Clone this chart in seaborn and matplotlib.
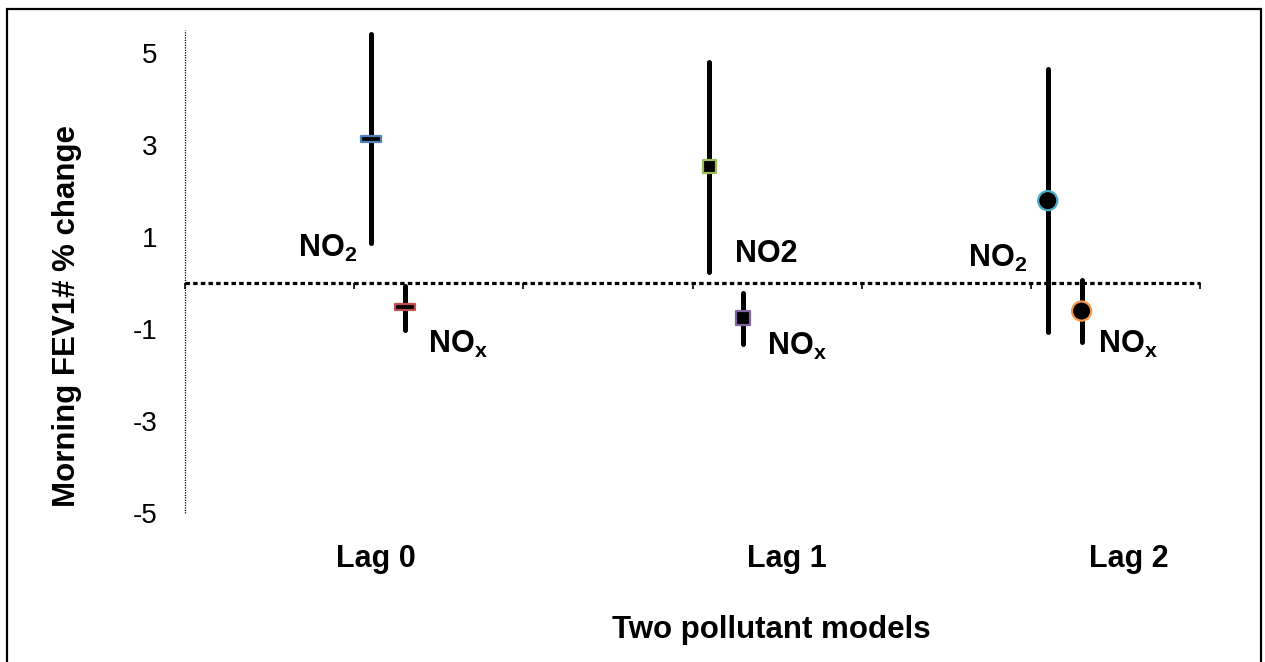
#importing libraries and modules
import numpy as np
import pandas as pd
import seaborn as sns
import matplotlib.pyplot as plt
from matplotlib.path import Path
from matplotlib.patches import Rectangle

#data
lags = ["Lag 0", "Lag 1", "Lag 2"]
lag_x = [1.13, 3.56, 5.58]
point_names = ["NO2 lag0", "NOx lag0", "NO2 lag1", "NOx lag1", "NO2 lag2", "NOx lag2"]
x_pos = [1.1, 1.3, 3.1, 3.3, 5.1, 5.3]
estimate = [3.12, -0.53, 2.53, -0.76, 1.79, -0.61]
ci_low = [0.87, -1.03, 0.24, -1.33, -1.07, -1.29]
ci_high = [5.41, -0.07, 4.80, -0.22, 4.65, 0.07]
marker_kind = ["dash", "dash", "square", "square", "circle", "circle"]
edge_colours = ["#4F81BD", "#C0504D", "#9BBB59", "#8064A2", "#4BACC6", "#F79646"]
point_labels = [r"NO$_\mathbf{2}$", r"NO$_\mathbf{x}$", "NO2",
                r"NO$_\mathbf{x}$", r"NO$_\mathbf{2}$", r"NO$_\mathbf{x}$"]
label_pos = [(0.668, 0.57), (1.436, -1.53), (3.25, 0.46),
             (3.44, -1.57), (4.63, 0.35), (5.40, -1.53)]
y_ticks = [-5, -3, -1, 1, 3, 5]

df = pd.DataFrame({"name": point_names, "x": x_pos, "est": estimate,
                   "lo": ci_low, "hi": ci_high, "kind": marker_kind})

#style and fonts
sns.set_style("white")
plt.rcParams['font.family'] = ['Liberation Sans', 'DejaVu Sans']
plt.rcParams['text.color'] = 'black'
plt.rcParams['ytick.color'] = 'black'
plt.rcParams['mathtext.fontset'] = 'custom'
plt.rcParams['mathtext.rm'] = 'Liberation Sans:bold'
plt.rcParams['mathtext.bf'] = 'Liberation Sans:bold'

fig = plt.figure(figsize=(12.65, 6.62), dpi=100)
ax = fig.add_axes([185/1265, 1-513/662, 1015/1265, 483/662])

#confidence interval lines
lc = ax.vlines(df["x"], df["lo"], df["hi"], color="black", linewidth=3.6)
lc.set_capstyle("round")

#markers
dash = Path([(-1, -0.3), (1, -0.3), (1, 0.3), (-1, 0.3), (-1, -0.3)],
            [Path.MOVETO, Path.LINETO, Path.LINETO, Path.LINETO, Path.CLOSEPOLY])
sc = sns.scatterplot(data=df, x="x", y="est", style="kind", size="kind",
                     markers={"dash": dash, "square": "s", "circle": "o"},
                     sizes={"dash": 210, "square": 95, "circle": 190},
                     color="black", linewidth=1.6, legend=False, zorder=3, ax=ax)
coll = ax.collections[-1]
coll.set_edgecolors(edge_colours)
coll.set_facecolors("black")

#point labels
for txt, (lx, ly) in zip(point_labels, label_pos):
    ax.text(lx, ly, txt, fontsize=22, fontweight="bold", ha="left", va="baseline")

#lag labels
for lab, lx in zip(lags, lag_x):
    ax.text(lx, -6.17, lab, fontsize=22, fontweight="bold", ha="center",
            va="baseline", clip_on=False)

#axes
ax.set_xlim(0, 6)
ax.set_ylim(-5, 5.5)
ax.set_yticks(y_ticks)
ax.set_yticklabels([str(t) for t in y_ticks], fontsize=20, color="black")
ax.tick_params(axis="y", left=False, length=0, pad=20)
ax.set_xticks(range(7))
ax.set_xticklabels([])
ax.tick_params(axis="x", bottom=True, length=4, width=1.2, direction="out", color="black")
for s in ["top", "right"]:
    ax.spines[s].set_visible(False)
ax.spines["left"].set_linestyle((0, (1, 1)))
ax.spines["left"].set_linewidth(0.9)
ax.spines["left"].set_color("black")
ax.spines["left"].set_capstyle("butt")
ax.spines["bottom"].set_position(("data", 0))
ax.spines["bottom"].set_linestyle((0, (1.4, 1)))
ax.spines["bottom"].set_linewidth(2.3)
ax.spines["bottom"].set_color("black")
ax.spines["bottom"].set_capstyle("butt")
ax.set_xlabel("")
ax.set_ylabel("")

fig.text(771/1265, 1-638/662, "Two pollutant models", fontsize=22.5,
         fontweight="bold", ha="center", va="baseline")
fig.text(67/1265, 1-316/662, "Morning FEV1# % change", fontsize=22.5,
         fontweight="bold", ha="center", va="center", rotation=90)

#outer border
fig.patches.append(Rectangle((7/1265, -0.01), 1254/1265, 1-9/662+0.01,
                             transform=fig.transFigure, fill=False,
                             edgecolor="black", linewidth=1.6))

plt.savefig("out.png", dpi=100)
